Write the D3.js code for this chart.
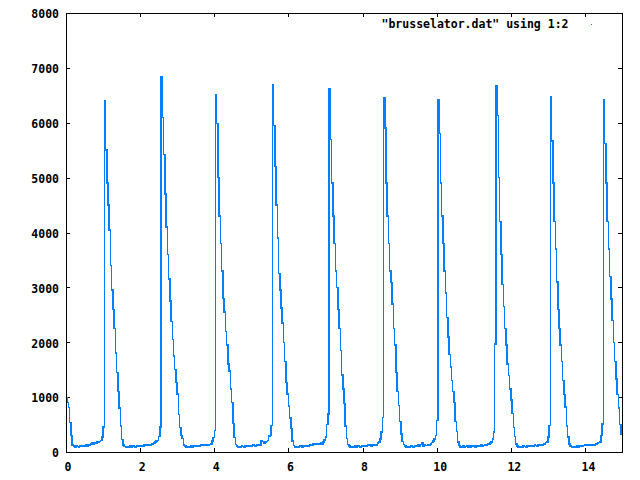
<!DOCTYPE html>
<html>
<head>
<meta charset="utf-8">
<script src="https://cdn.jsdelivr.net/npm/d3@7"></script>
<style>
  html, body { margin: 0; padding: 0; background: #fff; }
  svg { display: block; }
  .tick text, .key { font-family: "DejaVu Sans Mono", monospace; font-size: 11.5px; font-weight: bold; fill: #000; }
</style>
</head>
<body>
<svg id="chart" width="640" height="480"></svg>
<script>
// brusselator trace, sampled every 1/30 time unit, one array per time unit
const dt = 1 / 30;
const seg00 = [990, 905, 810, 540, 300, 130, 105, 95, 110, 100, 90, 115, 105, 120, 100, 110, 125, 110, 140, 130, 150, 165, 150, 170, 160, 180, 175, 190, 210, 270];
const seg01 = [455, 6405, 5500, 4900, 4500, 4050, 3400, 2950, 2600, 2250, 1800, 1450, 1100, 800, 470, 230, 130, 100, 95, 85, 100, 90, 105, 88, 110, 100, 95, 115, 105, 100];
const seg02 = [120, 110, 105, 125, 115, 135, 120, 140, 130, 150, 140, 165, 180, 200, 210, 280, 460, 6841, 6095, 5422, 4700, 4100, 3600, 3150, 2750, 2380, 2050, 1750, 1500, 1270];
const seg03 = [1055, 680, 450, 300, 250, 130, 105, 95, 85, 100, 90, 105, 95, 110, 100, 120, 105, 115, 100, 125, 115, 130, 120, 135, 125, 130, 140, 145, 200, 260];
const seg04 = [390, 6514, 5986, 5000, 4300, 3800, 3300, 2800, 2550, 2200, 1950, 1600, 1480, 1150, 900, 520, 260, 140, 110, 95, 100, 90, 110, 100, 95, 115, 105, 100, 120, 110];
const seg05 = [105, 125, 115, 110, 130, 120, 140, 130, 200, 190, 160, 180, 190, 210, 290, 300, 480, 6696, 5950, 5200, 4500, 3900, 3250, 2950, 2620, 2350, 2000, 1650, 1270, 1060];
const seg06 = [840, 620, 430, 200, 120, 95, 88, 100, 95, 110, 100, 90, 115, 105, 100, 120, 110, 125, 115, 130, 150, 140, 155, 145, 150, 140, 160, 150, 180, 220];
const seg07 = [270, 500, 690, 6623, 5695, 4900, 4300, 3800, 3300, 3000, 2600, 2250, 1850, 1400, 1150, 880, 470, 250, 140, 110, 95, 90, 100, 85, 105, 95, 110, 100, 90, 115];
const seg08 = [105, 100, 120, 110, 130, 115, 125, 110, 135, 120, 140, 130, 160, 180, 240, 360, 630, 6459, 5900, 4900, 4300, 3800, 3300, 3088, 2700, 2250, 1950, 1450, 1100, 850];
const seg09 = [560, 330, 190, 140, 110, 95, 88, 100, 92, 110, 100, 95, 115, 105, 100, 125, 110, 140, 160, 110, 130, 120, 115, 135, 125, 150, 170, 200, 240, 300];
const seg10 = [570, 6423, 5800, 4900, 4300, 3800, 3300, 2900, 2450, 2100, 1780, 1550, 1300, 1100, 900, 560, 370, 180, 120, 95, 90, 105, 88, 100, 110, 95, 105, 90, 115, 100];
const seg11 = [110, 95, 120, 105, 115, 100, 125, 110, 120, 135, 125, 150, 140, 160, 180, 240, 360, 1965, 6677, 6132, 5000, 4200, 3600, 3050, 2650, 2250, 1950, 1600, 1390, 1150];
const seg12 = [950, 700, 450, 280, 150, 110, 95, 88, 100, 92, 110, 100, 95, 115, 105, 100, 120, 110, 105, 125, 115, 110, 130, 120, 140, 125, 135, 150, 176, 180];
const seg13 = [270, 480, 6477, 5664, 4900, 4200, 3700, 3100, 2600, 2250, 1950, 1650, 1300, 1050, 820, 470, 270, 150, 110, 95, 88, 100, 90, 105, 95, 110, 100, 120, 105, 115];
const seg14 = [130, 140, 125, 140, 130, 120, 135, 125, 140, 150, 165, 176, 180, 300, 510, 6423, 5622, 4900, 4200, 3700, 3200, 2784, 2400, 2000, 1650, 1330, 1050, 800, 500, 327, 327];

const xTicks = [0, 2, 4, 6, 8, 10, 12, 14];
const yTicks = [0, 1000, 2000, 3000, 4000, 5000, 6000, 7000, 8000];
const keyLabel = '"brusselator.dat" using 1:2';

const counts = [].concat(seg00, seg01, seg02, seg03, seg04, seg05, seg06, seg07,
    seg08, seg09, seg10, seg11, seg12, seg13, seg14);
const trace = counts.map((v, i) => ({ t: i * dt, v: v }));

const svg = d3.select('#chart');
svg.append('rect').attr('width', 640).attr('height', 480).attr('fill', '#fff');

const x = d3.scaleLinear().domain([0, 15]).range([66, 622]);
const y = d3.scaleLinear().domain([0, 8000]).range([452, 13]);

// ticks on all four sides, pointing inward (gnuplot style)
const bottom = svg.append('g').attr('transform', 'translate(0,452)')
    .call(d3.axisBottom(x).tickValues(xTicks).tickSizeInner(-4).tickSizeOuter(0).tickPadding(11).tickFormat(d3.format('d')));
bottom.selectAll('text').attr('dx', d => String(d).length > 1 ? 3 : 1.5);

svg.append('g').attr('transform', 'translate(0,13)')
    .call(d3.axisTop(x).tickValues(xTicks).tickSizeInner(-4).tickSizeOuter(0).tickFormat(''));

const left = svg.append('g').attr('transform', 'translate(66,0)')
    .call(d3.axisLeft(y).tickValues(yTicks).tickSizeInner(-4).tickSizeOuter(0).tickPadding(7).tickFormat(d3.format('d')));
left.selectAll('text').attr('dy', '0.42em');

svg.append('g').attr('transform', 'translate(622,0)')
    .call(d3.axisRight(y).tickValues(yTicks).tickSizeInner(-4).tickSizeOuter(0).tickFormat(''));

svg.selectAll('.domain').remove();
svg.selectAll('.tick line').attr('stroke', '#000').attr('shape-rendering', 'crispEdges');
svg.selectAll('.tick text').attr('font-family', null).attr('font-size', null);

// the trace
const line = d3.line()
    .x(d => x(d.t))
    .y(d => y(d.v))
    .curve(d3.curveStepAfter);

svg.append('path')
    .datum(trace)
    .attr('d', line)
    .attr('fill', 'none')
    .attr('stroke', '#0080ff')
    .attr('stroke-width', 1.5)
    .attr('shape-rendering', 'crispEdges');

// frame
svg.append('rect')
    .attr('x', 66.5).attr('y', 13.5)
    .attr('width', 556).attr('height', 439)
    .attr('fill', 'none').attr('stroke', '#000').attr('stroke-width', 1)
    .attr('shape-rendering', 'crispEdges');

// key
svg.append('text').attr('class', 'key')
    .attr('x', 568.5).attr('y', 28)
    .attr('text-anchor', 'end')
    .attr('textLength', 187)
    .attr('lengthAdjust', 'spacing')
    .text(keyLabel);
svg.append('line')
    .attr('x1', 591).attr('x2', 592).attr('y1', 24.5).attr('y2', 24.5)
    .attr('stroke', '#0080ff').attr('stroke-width', 1);
</script>
</body>
</html>
